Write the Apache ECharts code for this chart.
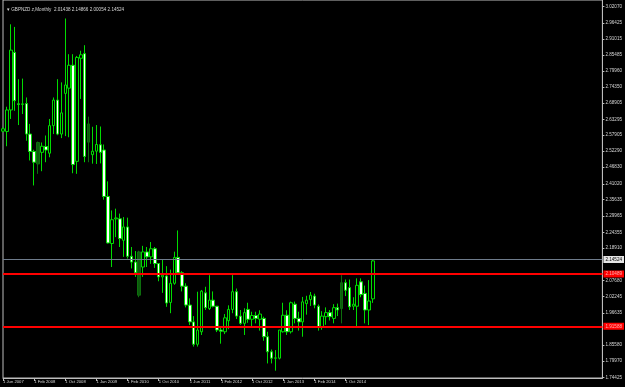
<!DOCTYPE html>
<html>
<head>
<meta charset="utf-8">
<script src="https://cdn.jsdelivr.net/npm/echarts@6/dist/echarts.min.js"></script>
<style>
html, body { margin: 0; padding: 0; background: #000; }
#main { width: 625px; height: 387px; }
</style>
</head>
<body>
<div id="main"></div>
<script>
var chartTitle = 'GBPNZD.z,Monthly  2.01438 2.14866 2.00054 2.14524';

// months from Jun 2007, right side of the axis stays empty (chart shift)
var monthNames = ['Jan', 'Feb', 'Mar', 'Apr', 'May', 'Jun', 'Jul', 'Aug', 'Sep', 'Oct', 'Nov', 'Dec'];
var slotCount = 155;
var categories = [];
for (var i = 0; i < slotCount; i++) {
    var m = 5 + i;
    categories.push((2007 + Math.floor(m / 12)) + '-' + monthNames[m % 12]);
}

var openVals = [2.592, 2.591, 2.665, 2.863, 2.686, 2.684, 2.687, 2.582, 2.522, 2.479,
    2.519, 2.539, 2.516, 2.611, 2.699, 2.582, 2.722, 2.740, 2.819, 2.488,
    2.843, 2.859, 2.554, 2.511, 2.523, 2.545, 2.527, 2.367, 2.205, 2.290,
    2.290, 2.216, 2.262, 2.161, 2.141, 2.027, 2.124, 2.176, 2.159, 2.187,
    2.136, 2.090, 2.093, 2.002, 2.068, 2.157, 2.104, 2.058, 1.993, 1.935,
    1.858, 1.901, 2.035, 1.981, 2.010, 1.989, 1.907, 1.901, 1.939, 1.978,
    2.039, 1.955, 1.930, 1.978, 1.944, 1.957, 1.944, 1.947, 1.884, 1.832,
    1.810, 1.810, 1.901, 1.958, 1.901, 1.996, 1.947, 1.935, 1.998, 2.012,
    2.024, 1.989, 1.918, 1.953, 1.967, 1.947, 1.984, 1.981, 2.070, 2.053,
    1.989, 1.989, 2.073, 2.033, 1.976, 2.01438];
var closeVals = [2.600, 2.665, 2.871, 2.697, 2.684, 2.686, 2.582, 2.522, 2.485, 2.553,
    2.540, 2.527, 2.611, 2.699, 2.582, 2.655, 2.751, 2.819, 2.477, 2.846,
    2.855, 2.505, 2.617, 2.523, 2.546, 2.519, 2.367, 2.207, 2.287, 2.293,
    2.222, 2.262, 2.161, 2.141, 2.104, 2.176, 2.176, 2.159, 2.187, 2.136,
    2.090, 2.096, 2.000, 2.068, 2.157, 2.104, 2.058, 1.993, 1.935, 1.858,
    1.907, 2.041, 1.984, 2.010, 1.989, 1.907, 1.903, 1.949, 1.978, 2.039,
    1.955, 1.930, 1.967, 1.944, 1.957, 1.947, 1.962, 1.884, 1.832, 1.810,
    1.811, 1.907, 1.958, 1.901, 2.001, 1.947, 1.935, 2.004, 2.010, 2.027,
    1.993, 1.918, 1.955, 1.967, 1.953, 1.984, 1.976, 2.070, 2.044, 1.987,
    1.996, 2.061, 2.029, 1.976, 2.007, 2.14524];
var highVals = [2.605, 2.676, 2.960, 2.951, 2.771, 2.773, 2.708, 2.617, 2.528, 2.556,
    2.553, 2.577, 2.634, 2.708, 2.771, 2.760, 2.980, 2.857, 2.857, 2.851,
    2.869, 2.888, 2.642, 2.607, 2.613, 2.608, 2.546, 2.419, 2.319, 2.325,
    2.308, 2.296, 2.294, 2.193, 2.179, 2.180, 2.197, 2.193, 2.210, 2.193,
    2.137, 2.150, 2.127, 2.115, 2.177, 2.250, 2.110, 2.068, 2.016, 1.955,
    2.039, 2.045, 2.056, 2.096, 2.040, 1.990, 1.918, 1.962, 1.992, 2.096,
    2.050, 1.976, 1.982, 2.001, 1.970, 1.970, 1.975, 1.953, 1.901, 1.840,
    1.838, 1.907, 2.001, 1.975, 2.005, 2.005, 1.970, 2.021, 2.025, 2.038,
    2.032, 1.995, 1.972, 1.985, 1.976, 1.996, 1.998, 2.096, 2.081, 2.081,
    2.020, 2.085, 2.085, 2.060, 2.079, 2.14866];
var lowVals = [2.588, 2.540, 2.634, 2.662, 2.613, 2.651, 2.559, 2.491, 2.405, 2.445,
    2.454, 2.485, 2.502, 2.582, 2.578, 2.568, 2.575, 2.571, 2.447, 2.445,
    2.703, 2.485, 2.485, 2.480, 2.479, 2.481, 2.356, 2.205, 2.124, 2.227,
    2.193, 2.159, 2.153, 2.119, 2.090, 2.020, 2.090, 2.124, 2.135, 2.121,
    2.075, 2.035, 1.987, 1.965, 2.063, 2.102, 2.040, 1.985, 1.924, 1.850,
    1.850, 1.890, 1.976, 1.976, 1.985, 1.900, 1.860, 1.893, 1.910, 1.965,
    1.945, 1.925, 1.890, 1.932, 1.920, 1.930, 1.905, 1.870, 1.792, 1.792,
    1.767, 1.806, 1.898, 1.890, 1.895, 1.930, 1.905, 1.884, 1.960, 1.990,
    1.982, 1.905, 1.908, 1.925, 1.940, 1.930, 1.955, 1.930, 2.024, 1.976,
    1.976, 1.918, 2.020, 1.930, 1.924, 2.00054];
// bars that show up as dim green in the screenshot
var dimBars = [9, 22, 35, 87];

var priceTicks = [3.02070, 2.96425, 2.91015, 2.85485, 2.79960, 2.74350, 2.68905, 2.63295,
    2.57905, 2.52290, 2.46830, 2.41020, 2.35635, 2.29965, 2.24355, 2.18910,
    2.07680, 2.02245, 1.96635, 1.85580, 1.79970, 1.74425];
var lastPrice = 2.14524;
var levelLines = [2.10489, 1.91588];

var barCount = openVals.length;
var candles = [];
for (var k = 0; k < barCount; k++) {
    var item = { value: [openVals[k], closeVals[k], lowVals[k], highVals[k]] };
    if (dimBars.indexOf(k) >= 0) {
        item.itemStyle = { color: '#0d5a0d', color0: '#0d5a0d', borderColor: '#0d6e0d', borderColor0: '#0d6e0d' };
    }
    candles.push(item);
}

var green = '#00dc00';
var txt = '#d6d6d6';
var fnt = 'Liberation Sans';

var markData = [{
    yAxis: lastPrice,
    lineStyle: { color: '#6e7b8b', width: 1, type: 'solid' },
    label: {
        show: true, position: 'end', distance: 1,
        formatter: lastPrice.toFixed(5),
        backgroundColor: '#e6e6e6', color: '#000', fontSize: 4.6, fontFamily: fnt,
        padding: [1, 2, 1, 2]
    }
}];
levelLines.forEach(function (v) {
    markData.push({
        yAxis: v,
        lineStyle: { color: '#ff0000', width: 2, type: 'solid' },
        label: {
            show: true, position: 'end', distance: 1,
            formatter: v.toFixed(5),
            backgroundColor: '#ff0000', color: '#ffb0b0', fontSize: 4.6, fontFamily: fnt,
            padding: [1, 2, 1, 2]
        }
    });
});

var myChart = echarts.init(document.getElementById('main'));
var option = {
    backgroundColor: '#000000',
    animation: false,
    title: {
        text: '\u25BE ' + chartTitle,
        left: 2,
        top: 2,
        textStyle: { color: txt, fontSize: 4.6, fontWeight: 'normal', fontFamily: fnt }
    },
    grid: {
        left: 1,
        right: 22,
        top: -1,
        bottom: 9,
        show: true,
        borderColor: '#bdbdbd',
        borderWidth: 1
    },
    xAxis: {
        type: 'category',
        data: categories,
        boundaryGap: false,
        axisLine: { show: true, lineStyle: { color: '#bdbdbd' } },
        axisTick: {
            show: true,
            length: 3,
            lineStyle: { color: '#bdbdbd' },
            interval: function (idx) { return idx % 8 === 0 && idx < barCount; }
        },
        axisLabel: {
            color: txt,
            fontSize: 4.2,
            fontFamily: fnt,
            margin: 2,
            align: 'left',
            interval: function (idx) { return idx % 8 === 0 && idx < barCount; },
            formatter: function (val) {
                var p = val.split('-');
                return '1 ' + p[1] + ' ' + p[0];
            }
        },
        splitLine: { show: false }
    },
    yAxis: {
        type: 'value',
        position: 'right',
        min: 1.7418,
        max: 3.0437,
        scale: true,
        axisLine: { show: true, lineStyle: { color: '#bdbdbd' } },
        axisTick: { show: true, length: 2, customValues: priceTicks, lineStyle: { color: '#bdbdbd' } },
        axisLabel: {
            color: txt,
            fontSize: 4.6,
            fontFamily: fnt,
            margin: 3,
            customValues: priceTicks,
            formatter: function (v) { return v.toFixed(5); }
        },
        splitLine: { show: false }
    },
    series: [{
        type: 'candlestick',
        data: candles,
        barWidth: 3,
        itemStyle: {
            color: '#000000',
            color0: '#ffffff',
            borderColor: green,
            borderColor0: green,
            borderWidth: 1
        },
        markLine: {
            silent: true,
            symbol: ['none', 'none'],
            data: markData
        }
    }]
};
myChart.setOption(option);
</script>
</body>
</html>
